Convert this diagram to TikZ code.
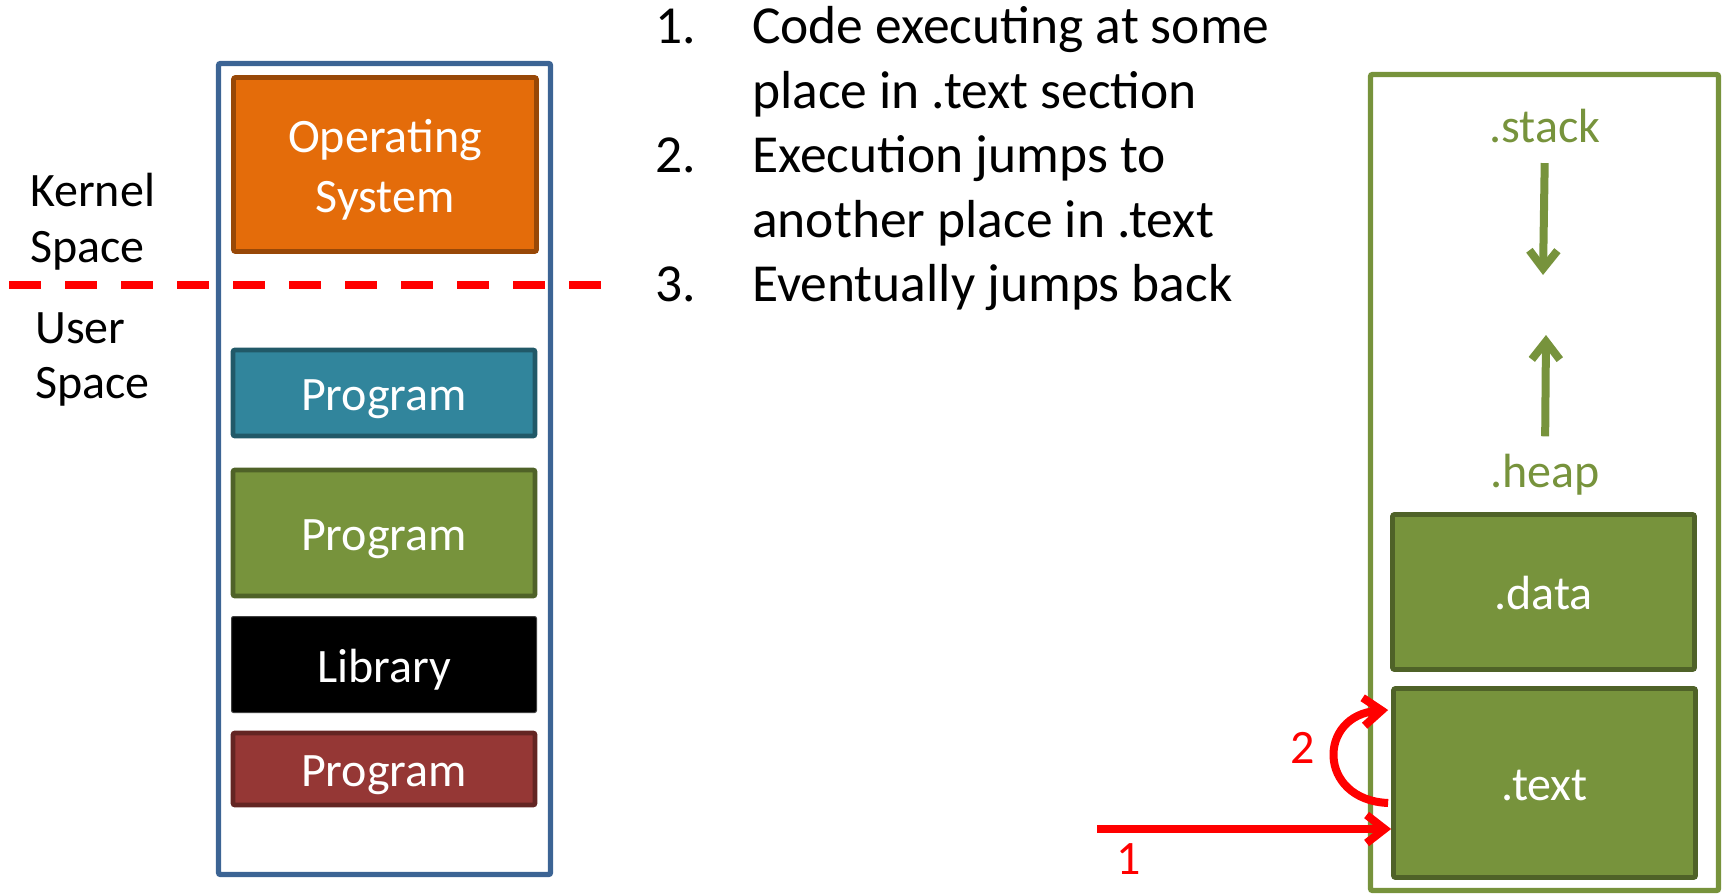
\documentclass[tikz,border=0pt]{standalone}
\usepackage{fontspec}
\setmainfont{Carlito}
\usetikzlibrary{arrows.meta,calc}
\definecolor{osorange}{HTML}{E46C0A}
\definecolor{osdark}{HTML}{984807}
\definecolor{progteal}{HTML}{31859C}
\definecolor{tealdark}{HTML}{215968}
\definecolor{proggreen}{HTML}{77933C}
\definecolor{greendark}{HTML}{4F6228}
\definecolor{progred}{HTML}{953735}
\definecolor{reddark}{HTML}{632523}
\definecolor{memblue}{HTML}{3C6494}
\tikzstyle{mb} = [rectangle,
                      line width=4.8pt,
                      rounded corners=2pt,
                      inner sep=0pt,
                      text=white,
                      text height=35pt,
                      text depth=0pt,
                      font=\fontsize{48}{59}\selectfont,
                      minimum width=302pt]
\tikzstyle{sb} = [rectangle,
                      line width=4.8pt,
                      rounded corners=2pt,
                      inner sep=0pt,
                      text=white,
                      text height=35pt,
                      text depth=0pt,
                      font=\fontsize{48}{59}\selectfont,
                      minimum width=302pt,
                      draw=greendark,
                      fill=proggreen]
\tikzstyle{frame} = [rectangle,
                      line width=5.3pt,
                      rounded corners=2pt,
                      inner sep=0pt]
\tikzstyle{lbl} = [inner sep=0pt,
                      font=\fontsize{48}{55}\selectfont]
\tikzstyle{grarrow} = [proggreen,
                      line width=8pt,
                      -{Straight Barb[length=18pt,width=28pt]}]
\tikzstyle{jump} = [red,
                      line width=8pt,
                      -{Straight Barb[length=18pt,width=28pt]}]

\begin{document}
\begin{tikzpicture}[x=1pt,y=-1pt]
     \useasboundingbox (0,0) rectangle (1723,896);
     % kernel / user split
     \coordinate (sepL) at (9,285);
     \coordinate (sepR) at (602,285);
     \draw [red, line width=7.5pt, dash pattern=on 32pt off 24pt] (sepL) -- (sepR);
     \node [lbl, anchor=base west] (kernel) at (30,207) {\begin{tabular}[t]{@{}l@{}}Kernel\\Space\end{tabular}};
     \node [lbl, anchor=base west] (user) at (35,343) {\begin{tabular}[t]{@{}l@{}}User\\Space\end{tabular}};
     % memory
     \node [frame, draw=memblue, minimum width=332pt, minimum height=811pt] (mem) at (384.5,469) {};
     \node [mb, draw=osdark, fill=osorange, minimum width=303pt, minimum height=174pt, text height=95pt] (os) at (385,164.5)
       {\begin{tabular}[b]{@{}c@{}}Operating\\System\end{tabular}};
     \node [mb, draw=tealdark, fill=progteal, minimum height=86pt] (progA) at (384,393) {Program};
     \node [mb, draw=greendark, fill=proggreen, minimum height=126pt] (progB) at (384,533) {Program};
     \node [mb, line width=1pt, draw=black!75, fill=black, minimum width=305pt, minimum height=96pt] (lib) at (384,664.5) {Library};
     \node [mb, draw=reddark, fill=progred, minimum height=72pt] (progC) at (384,769) {Program};
     % steps
     \node [inner sep=0pt, anchor=base west, font=\fontsize{53.5}{64.5}\selectfont] (steps) at (655,44) {%
       \begin{tabular}[t]{@{}p{97pt}@{}l@{}}
       1. & Code executing at some\\
          & place in .text section\\
       2. & Execution jumps to\\
          & another place in .text\\
       3. & Eventually jumps back
       \end{tabular}};
     % process sections
     \node [frame, draw=proggreen, minimum width=348pt, minimum height=816pt] (proc) at (1544.5,482.5) {};
     \node [lbl, text=proggreen] (stack) at (1545,126) {.stack};
     \node [lbl, text=proggreen] (heap) at (1545,475) {.heap};
     \node [sb, minimum height=155pt] (data) at (1543.5,592) {.data};
     \node [sb, minimum height=189pt] (text) at (1544.5,783) {.text};
     \coordinate (stacktip) at (1543,275);
     \coordinate (heaptip) at (1546,335);
     \draw [grarrow, shorten <=20pt] (stack.south) -- (stacktip);
     \draw [grarrow, shorten <=18pt] (heap.north) -- (heaptip);
     % jumps
     \coordinate (entry) at (1097,829);
     \draw [jump] (entry) -- (text.west |- entry);
     \draw [jump] ($(text.west)+(-3,20)$) .. controls +(-71,-3) and +(-71,5) .. ($(text.west)+(-3,-73)$);
     \node [lbl, text=red] (one) at (1129,859) {1};
     \node [lbl, text=red] (two) at (1303,748) {2};
\end{tikzpicture}
\end{document}
